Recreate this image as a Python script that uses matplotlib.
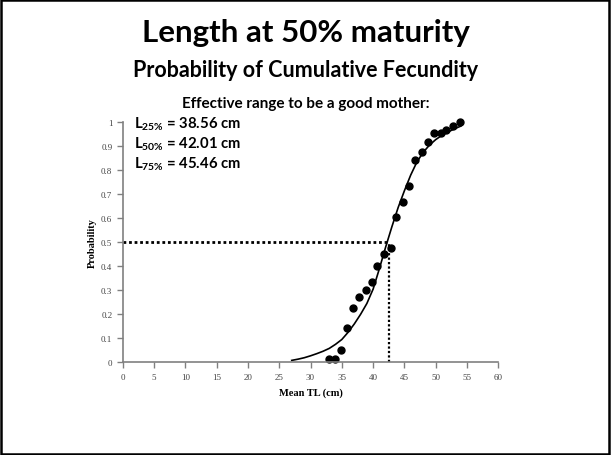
import matplotlib
matplotlib.use('Agg')
from matplotlib import pyplot as plt
from matplotlib.patches import Rectangle

# observed points (mean TL, probability)
obs_tl = [32.9, 33.9, 34.8, 35.8, 36.8, 37.8, 38.8, 39.8, 40.7, 41.7, 42.8,
          43.7, 44.8, 45.8, 46.7, 47.8, 48.8, 49.8, 50.8, 51.7, 52.7, 53.8]
obs_p = [0.015, 0.015, 0.05, 0.143, 0.225, 0.27, 0.303, 0.335, 0.40, 0.45, 0.478,
         0.606, 0.67, 0.733, 0.845, 0.876, 0.92, 0.954, 0.955, 0.968, 0.985, 1.0]

# fitted curve
fit_tl = [27, 28, 29, 30, 31, 32, 33, 34, 35, 36, 37, 38, 39, 40, 41, 42, 43,
          44, 45, 46, 47, 48, 49, 50, 51, 52, 53, 54]
fit_p = [0.008, 0.013, 0.019, 0.027, 0.036, 0.046, 0.058, 0.075, 0.095, 0.125,
         0.16, 0.20, 0.245, 0.305, 0.39, 0.48, 0.565, 0.645, 0.715, 0.78, 0.835,
         0.875, 0.905, 0.928, 0.946, 0.96, 0.973, 0.984]

l50_mark = 42.5
labels = ['25%', '50%', '75%']
lengths = [38.56, 42.01, 45.46]

plt.rcParams['mathtext.fontset'] = 'custom'
plt.rcParams['mathtext.rm'] = 'Lato:bold'
plt.rcParams['mathtext.it'] = 'Lato:bold'
plt.rcParams['mathtext.bf'] = 'Lato:bold'

fig = plt.figure(figsize=(6.11, 4.56), dpi=100)
fig.patches.append(Rectangle((0.002, 0.003), 0.995, 0.994, transform=fig.transFigure,
                             fill=False, edgecolor='black', linewidth=1.8))

fig.text(0.5, 0.927, 'Length at 50% maturity', ha='center', va='center',
         family='Lato', fontweight='bold', fontsize=22.5)
fig.text(0.5, 0.845, 'Probability of Cumulative Fecundity', ha='center', va='center',
         family='Lato', fontweight='bold', fontsize=15.5)
fig.text(0.5, 0.773, 'Effective range to be a good mother:', ha='center', va='center',
         family='Lato', fontweight='bold', fontsize=11)

ax = fig.add_axes([0.2008, 0.2033, 0.6148, 0.5263])
ax.plot(fit_tl, fit_p, color='black', linewidth=1.2)
ax.plot(obs_tl, obs_p, 'o', color='black', markersize=5, clip_on=False)
ax.plot([0, l50_mark], [0.5, 0.5], color='black', linestyle=(0, (1, 1)), linewidth=2)
ax.plot([l50_mark, l50_mark], [0, 0.5], color='black', linestyle=(0, (1, 1)), linewidth=1.6)

for i, (lab, val) in enumerate(zip(labels, lengths)):
    ax.text(1.8, 0.995 - i * 0.083, 'L$_{%s}$ = %.2f cm' % (lab.replace('%', r'\%'), val),
            family='Lato', fontweight='bold', fontsize=10.7, va='center')

ax.set_xlim(0, 60)
ax.set_ylim(0, 1)
ax.set_xticks(range(0, 61, 5))
ax.set_yticks([i / 10 for i in range(11)])
ax.set_yticklabels(['0', '0.1', '0.2', '0.3', '0.4', '0.5', '0.6', '0.7', '0.8', '0.9', '1'])
for s in ['top', 'right']:
    ax.spines[s].set_visible(False)
for s in ['left', 'bottom']:
    ax.spines[s].set_color('#808080')
    ax.spines[s].set_linewidth(1.2)
ax.tick_params(colors='#808080', labelcolor='#444444', length=4, width=1, labelsize=6.5)
for t in ax.get_xticklabels() + ax.get_yticklabels():
    t.set_family('Liberation Serif')
ax.set_xlabel('Mean TL (cm)', family='Liberation Serif', fontweight='bold', fontsize=7.5,
              labelpad=5)
ax.set_ylabel('Probability', family='Liberation Serif', fontweight='bold', fontsize=7.5,
              labelpad=3)

fig.savefig('out.png', dpi=100)
